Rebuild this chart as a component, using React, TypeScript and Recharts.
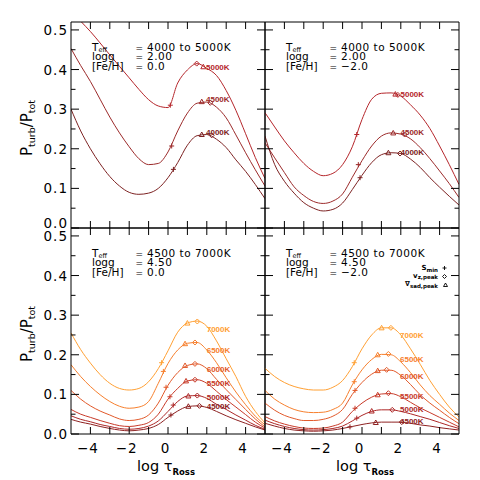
import { ComposedChart, Line, Scatter, XAxis, YAxis } from 'recharts';

// log tau_Ross grid shared by every curve
const logTau = [-5, -4.5, -4, -3.5, -3, -2.5, -2, -1.5, -1, -0.5, 0, 0.5, 1, 1.5, 2, 2.5, 3, 3.5, 4, 4.5, 5];

// logg = 2.00, [Fe/H] = 0.0
const tl5000 = [0.55, 0.522, 0.496, 0.467, 0.437, 0.408, 0.379, 0.35, 0.324, 0.308, 0.304, 0.366, 0.399, 0.415, 0.403, 0.385, 0.347, 0.297, 0.238, 0.178, 0.125];
const tl4500 = [0.453, 0.41, 0.37, 0.325, 0.28, 0.24, 0.205, 0.175, 0.16, 0.163, 0.192, 0.245, 0.29, 0.315, 0.318, 0.305, 0.278, 0.235, 0.19, 0.147, 0.106];
const tl4000 = [0.3, 0.245, 0.2, 0.162, 0.13, 0.106, 0.09, 0.085, 0.088, 0.1, 0.127, 0.165, 0.209, 0.233, 0.236, 0.224, 0.203, 0.172, 0.143, 0.11, 0.074];

// logg = 2.00, [Fe/H] = -2.0
const tr5000 = [0.291, 0.255, 0.22, 0.19, 0.163, 0.143, 0.132, 0.138, 0.16, 0.205, 0.274, 0.325, 0.34, 0.341, 0.333, 0.311, 0.285, 0.251, 0.207, 0.16, 0.11];
const tr4500 = [0.215, 0.177, 0.14, 0.104, 0.082, 0.067, 0.062, 0.068, 0.086, 0.128, 0.17, 0.207, 0.232, 0.24, 0.237, 0.225, 0.203, 0.175, 0.144, 0.112, 0.077];
const tr4000 = [0.232, 0.16, 0.118, 0.088, 0.064, 0.05, 0.043, 0.047, 0.063, 0.097, 0.133, 0.165, 0.185, 0.19, 0.188, 0.174, 0.153, 0.127, 0.103, 0.08, 0.058];

// logg = 4.50, [Fe/H] = 0.0
const bl7000 = [0.255, 0.213, 0.179, 0.15, 0.128, 0.115, 0.111, 0.115, 0.132, 0.165, 0.21, 0.257, 0.28, 0.285, 0.272, 0.235, 0.19, 0.145, 0.095, 0.057, 0.028];
const bl6500 = [0.175, 0.145, 0.12, 0.099, 0.082, 0.07, 0.065, 0.068, 0.082, 0.128, 0.178, 0.212, 0.229, 0.231, 0.212, 0.18, 0.142, 0.106, 0.074, 0.045, 0.023];
const bl6000 = [0.11, 0.088, 0.071, 0.058, 0.048, 0.038, 0.034, 0.037, 0.048, 0.078, 0.123, 0.155, 0.173, 0.177, 0.165, 0.138, 0.112, 0.087, 0.062, 0.038, 0.018];
const bl5500 = [0.062, 0.05, 0.042, 0.034, 0.027, 0.021, 0.019, 0.022, 0.029, 0.05, 0.088, 0.115, 0.134, 0.137, 0.128, 0.108, 0.087, 0.068, 0.049, 0.03, 0.015];
const bl5000 = [0.046, 0.037, 0.031, 0.024, 0.019, 0.014, 0.012, 0.014, 0.02, 0.033, 0.057, 0.082, 0.096, 0.097, 0.09, 0.075, 0.062, 0.048, 0.035, 0.022, 0.012];
const bl4500 = [0.037, 0.03, 0.025, 0.019, 0.014, 0.01, 0.008, 0.01, 0.014, 0.024, 0.042, 0.058, 0.069, 0.071, 0.067, 0.057, 0.046, 0.036, 0.027, 0.018, 0.01];

// logg = 4.50, [Fe/H] = -2.0
const br7000 = [0.166, 0.145, 0.13, 0.12, 0.114, 0.111, 0.111, 0.118, 0.135, 0.17, 0.215, 0.25, 0.268, 0.268, 0.25, 0.215, 0.176, 0.135, 0.1, 0.068, 0.043];
const br6500 = [0.11, 0.088, 0.073, 0.062, 0.056, 0.054, 0.055, 0.062, 0.078, 0.124, 0.162, 0.188, 0.201, 0.2, 0.182, 0.155, 0.124, 0.097, 0.075, 0.053, 0.034];
const br6000 = [0.078, 0.06, 0.047, 0.039, 0.034, 0.034, 0.037, 0.045, 0.062, 0.1, 0.13, 0.151, 0.161, 0.161, 0.148, 0.125, 0.099, 0.078, 0.06, 0.042, 0.026];
const br5500 = [0.044, 0.033, 0.025, 0.019, 0.015, 0.014, 0.015, 0.02, 0.03, 0.057, 0.078, 0.093, 0.101, 0.102, 0.094, 0.08, 0.066, 0.054, 0.042, 0.03, 0.018];
const br5000 = [0.035, 0.026, 0.019, 0.014, 0.011, 0.01, 0.011, 0.014, 0.02, 0.033, 0.047, 0.057, 0.061, 0.061, 0.057, 0.051, 0.044, 0.037, 0.029, 0.021, 0.014];
const br4500 = [0.027, 0.02, 0.014, 0.01, 0.008, 0.007, 0.008, 0.01, 0.014, 0.019, 0.024, 0.028, 0.03, 0.03, 0.03, 0.027, 0.023, 0.02, 0.016, 0.013, 0.01];

// markers [logTau, Pturb/Ptot], same order as the curves
const tlSmin = [[0.12, 0.31], [0.19, 0.207], [0.28, 0.148]];
const tlVz = [[1.48, 0.415], [2.18, 0.316], [2.25, 0.234]];
const tlSad = [[1.82, 0.407], [1.74, 0.319], [1.74, 0.236]];
const trSmin = [[-0.27, 0.236], [-0.19, 0.16], [-0.1, 0.127]];
const trVz = [[1.85, 0.336], [2.2, 0.236], [1.96, 0.188]];
const trSad = [[1.72, 0.338], [1.61, 0.24], [1.36, 0.19]];
const blSmin = [[-0.33, 0.18], [-0.24, 0.158], [-0.1, 0.118], [0.1, 0.094], [0.27, 0.073], [0.15, 0.048]];
const blVz = [[1.51, 0.284], [1.39, 0.231], [1.39, 0.177], [1.39, 0.137], [1.51, 0.097], [1.62, 0.071]];
const blSad = [[1.0, 0.28], [0.88, 0.228], [0.88, 0.173], [0.93, 0.134], [1.05, 0.096], [1.05, 0.07]];
const brSmin = [[-0.4, 0.18], [-0.4, 0.132], [-0.36, 0.11], [-0.36, 0.065], [-0.27, 0.04], [-0.62, 0.018]];
const brVz = [[1.49, 0.268], [1.36, 0.202], [1.27, 0.162], [1.36, 0.103], [1.56, 0.061], [2.05, 0.03]];
const brSad = [[1.01, 0.268], [0.81, 0.2], [0.81, 0.16], [0.81, 0.099], [0.5, 0.058], [0.71, 0.029]];

const coolLabels = ['5000K', '4500K', '4000K'];
const hotLabels = ['7000K', '6500K', '6000K', '5500K', '5000K', '4500K'];

const xTicks = [-4, -3, -2, -1, 0, 1, 2, 3, 4];
const yTicks = [0, 0.05, 0.1, 0.15, 0.2, 0.25, 0.3, 0.35, 0.4, 0.45, 0.5];

const coolColors = ['#b5262b', '#9c2a2a', '#7d2222'];
const hotColors = ['#ffa033', '#f7802e', '#e2592a', '#c83b2a', '#ad2727', '#8e2222'];
const ink = '#000';
const font = '"DejaVu Sans", sans-serif';

const isMajorY = (v: number) => Math.abs(v * 10 - Math.round(v * 10)) < 1e-6;
const isMajorX = (v: number) => Math.round(v) % 2 === 0;
const fmtX = (v: number) => (v < 0 ? '\u2212' + Math.abs(v) : String(v));

// liftZero: the 0.0 label of the upper panels sits just above the shared border
const leftTick = (labels: boolean, liftZero: boolean) => (p: any) => {
  const v = p.payload.value;
  const major = isMajorY(v);
  const lift = liftZero && v === 0 ? 5 : 0;
  return (
    <g>
      <line x1={p.x} x2={p.x + (major ? 8 : 4.5)} y1={p.y} y2={p.y} stroke={ink} />
      {labels && major && (
        <text x={p.x - 3} y={p.y + 5 - lift} textAnchor="end" fontFamily={font} fontSize={13.5} letterSpacing={1} fill={ink}>
          {v.toFixed(1)}
        </text>
      )}
    </g>
  );
};

const rightTick = (p: any) => {
  const major = isMajorY(p.payload.value);
  return <line x1={p.x} x2={p.x - (major ? 8 : 4.5)} y1={p.y} y2={p.y} stroke={ink} />;
};

const bottomTick = (labels: boolean) => (p: any) => {
  const v = p.payload.value;
  return (
    <g>
      <line x1={p.x} x2={p.x} y1={p.y} y2={p.y - 7} stroke={ink} />
      {labels && isMajorX(v) && (
        <text x={p.x - 2.5} y={p.y + 19} textAnchor="middle" fontFamily={font} fontSize={13.5} letterSpacing={1} fill={ink}>
          {fmtX(v)}
        </text>
      )}
    </g>
  );
};

const topTick = (p: any) => <line x1={p.x} x2={p.x} y1={p.y} y2={p.y + 7} stroke={ink} />;

const plusShape = (p: any) => (
  <path d={`M${p.cx - 2.5},${p.cy}h5M${p.cx},${p.cy - 2.5}v5`} stroke={p.payload.c} fill="none" />
);
const diamondShape = (p: any) => (
  <path d={`M${p.cx},${p.cy - 2.5}L${p.cx + 2.5},${p.cy}L${p.cx},${p.cy + 2.5}L${p.cx - 2.5},${p.cy}Z`} stroke={p.payload.c} fill="none" />
);
const triangleShape = (p: any) => (
  <path d={`M${p.cx},${p.cy - 2.5}L${p.cx + 2.5},${p.cy + 2}L${p.cx - 2.5},${p.cy + 2}Z`} stroke={p.payload.c} fill="none" />
);

const marks = (pts: number[][], colors: string[]) => pts.map(([x, y], i) => ({ x, y, c: colors[i] }));

type PanelProps = {
  curves: number[][];
  colors: string[];
  smin: number[][];
  vz: number[][];
  sad: number[][];
  box: { left: number; top: number; right: number; bottom: number };
  yLabels: boolean;
  xLabels: boolean;
};

// each axis is 1px thick so that it renders; margins are trimmed by that 1px
function Panel({ curves, colors, smin, vz, sad, box, yLabels, xLabels }: PanelProps) {
  const frame = { stroke: ink, strokeWidth: 1 };
  return (
    <div style={{ position: 'absolute', left: 0, top: 0 }}>
      <ComposedChart
        width={480}
        height={480}
        margin={{ left: box.left - 1, top: box.top - 1, right: 480 - box.right - 1, bottom: 480 - box.bottom - 1 }}
      >
        <XAxis xAxisId="b" dataKey="x" type="number" domain={[-5, 5]} ticks={xTicks} allowDataOverflow
          height={1} tickSize={0} tickMargin={0} interval={0} axisLine={frame} tickLine={false} tick={bottomTick(xLabels)} />
        <XAxis xAxisId="t" orientation="top" dataKey="x" type="number" domain={[-5, 5]} ticks={xTicks} allowDataOverflow
          height={1} tickSize={0} tickMargin={0} interval={0} axisLine={frame} tickLine={false} tick={topTick} />
        <YAxis yAxisId="l" type="number" domain={[0, 0.52]} ticks={yTicks} allowDataOverflow
          width={1} tickSize={0} tickMargin={0} interval={0} axisLine={frame} tickLine={false} tick={leftTick(yLabels, !xLabels)} />
        <YAxis yAxisId="r" orientation="right" type="number" domain={[0, 0.52]} ticks={yTicks} allowDataOverflow
          width={1} tickSize={0} tickMargin={0} interval={0} axisLine={frame} tickLine={false} tick={rightTick} />
        {curves.map((c, i) => (
          <Line
            key={i}
            xAxisId="b"
            yAxisId="l"
            data={logTau.map((x, j) => ({ x, y: c[j] }))}
            dataKey="y"
            type="monotone"
            stroke={colors[i]}
            strokeWidth={1}
            dot={false}
            activeDot={false}
            isAnimationActive={false}
          />
        ))}
        <Scatter xAxisId="b" yAxisId="l" data={marks(smin, colors)} dataKey="y" shape={plusShape} isAnimationActive={false} />
        <Scatter xAxisId="b" yAxisId="l" data={marks(vz, colors)} dataKey="y" shape={diamondShape} isAnimationActive={false} />
        <Scatter xAxisId="b" yAxisId="l" data={marks(sad, colors)} dataKey="y" shape={triangleShape} isAnimationActive={false} />
      </ComposedChart>
    </div>
  );
}

function Params({ x, y, teff, logg, feh }: { x: number; y: number; teff: string; logg: string; feh: string }) {
  const rows = [
    { head: 'T', sub: 'eff', val: teff },
    { head: 'logg', sub: '', val: logg },
    { head: '[Fe/H]', sub: '', val: feh },
  ];
  return (
    <g fontFamily={font} fontSize={10.5} fill={ink}>
      {rows.map((r, i) => (
        <g key={i}>
          <text x={x} y={y + i * 9.8}>
            {r.head}
            {r.sub && <tspan fontSize={6.5} dy={1.5}>{r.sub}</tspan>}
          </text>
          <text x={x + 43.5} y={y + i * 9.8} fontSize={9}>=</text>
          <text x={x + 55} y={y + i * 9.8} letterSpacing={0.5}>{r.val}</text>
        </g>
      ))}
    </g>
  );
}

function TempLabels({ x, ys, labels, colors }: { x: number; ys: number[]; labels: string[]; colors: string[] }) {
  return (
    <g fontFamily='"Liberation Sans", Arial, sans-serif' fontSize={8} fontWeight="bold">
      {labels.map((l, i) => (
        <text key={i} x={x} y={ys[i] + 2.9} fill={colors[i]}>{l}</text>
      ))}
    </g>
  );
}

function YTitle({ y }: { y: number }) {
  return (
    <text transform={`translate(32,${y}) rotate(-90)`} textAnchor="middle" fontFamily={font} fontSize={15} fill={ink}>
      P<tspan fontSize={9.5} dy={3}>turb</tspan>
      <tspan dy={-3}>/P</tspan>
      <tspan fontSize={9.5} dy={3}>tot</tspan>
    </text>
  );
}

function XTitle({ x }: { x: number }) {
  return (
    <text x={x} y={471} textAnchor="middle" fontFamily={font} fontSize={14.5} fill={ink}>
      log  τ<tspan fontSize={8.5} fontWeight="bold" dy={3.5}>Ross</tspan>
    </text>
  );
}

export default function App() {
  return (
    <div style={{ position: 'absolute', left: 0, top: 0, width: 480, height: 480, background: '#fff' }}>
      <Panel curves={[tl5000, tl4500, tl4000]} colors={coolColors} smin={tlSmin} vz={tlVz} sad={tlSad}
        box={{ left: 71, top: 22, right: 265, bottom: 228 }} yLabels xLabels={false} />
      <Panel curves={[tr5000, tr4500, tr4000]} colors={coolColors} smin={trSmin} vz={trVz} sad={trSad}
        box={{ left: 265, top: 22, right: 459, bottom: 228 }} yLabels={false} xLabels={false} />
      <Panel curves={[bl7000, bl6500, bl6000, bl5500, bl5000, bl4500]} colors={hotColors} smin={blSmin} vz={blVz} sad={blSad}
        box={{ left: 71, top: 228, right: 265, bottom: 434 }} yLabels xLabels />
      <Panel curves={[br7000, br6500, br6000, br5500, br5000, br4500]} colors={hotColors} smin={brSmin} vz={brVz} sad={brSad}
        box={{ left: 265, top: 228, right: 459, bottom: 434 }} yLabels={false} xLabels />
      <svg width={480} height={480} style={{ position: 'absolute', left: 0, top: 0, pointerEvents: 'none' }}>
        <YTitle y={128} />
        <YTitle y={334} />
        <XTitle x={166} />
        <XTitle x={365} />
        <Params x={92} y={50.5} teff="4000 to 5000K" logg="2.00" feh="0.0" />
        <Params x={286} y={50.5} teff="4000 to 5000K" logg="2.00" feh={'\u22122.0'} />
        <Params x={92} y={256.5} teff="4500 to 7000K" logg="4.50" feh="0.0" />
        <Params x={286} y={256.5} teff="4500 to 7000K" logg="4.50" feh={'\u22122.0'} />
        <TempLabels x={206} ys={[67.3, 99.3, 132]} labels={coolLabels} colors={coolColors} />
        <TempLabels x={400.5} ys={[94.3, 132.3, 152.2]} labels={coolLabels} colors={coolColors} />
        <TempLabels x={206.7} ys={[329.3, 350.5, 369, 383, 396.7, 405.8]} labels={hotLabels} colors={hotColors} />
        <TempLabels x={400} ys={[335, 359.3, 375.7, 396.2, 409.5, 421.4]} labels={hotLabels} colors={hotColors} />
        <g fontFamily={font} fontSize={7} fontWeight="bold" fill={ink}>
          <text x={438} y={270} textAnchor="end">S<tspan fontSize={5.5} dy={1.5}>min</tspan></text>
          <text x={438} y={277.5} textAnchor="end">v<tspan fontSize={5.5} dy={1.5}>z,peak</tspan></text>
          <text x={438} y={286} textAnchor="end">∇<tspan fontSize={5.5} dy={1.5}>sad,peak</tspan></text>
        </g>
        <g stroke={ink} fill="none" strokeWidth={0.9}>
          <path d="M442.5,268h4M444.5,266v4" />
          <path d="M444.5,274.5l2,2l-2,2l-2,-2z" />
          <path d="M445.5,283l2,3.5h-4z" />
        </g>
      </svg>
    </div>
  );
}
